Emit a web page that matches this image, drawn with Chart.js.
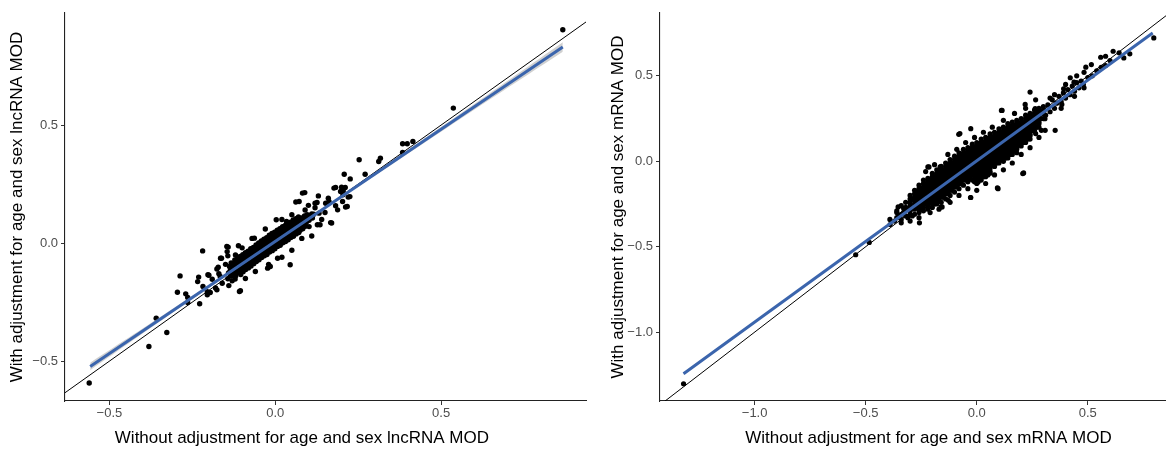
<!DOCTYPE html>
<html><head><meta charset="utf-8">
<script src="https://cdn.jsdelivr.net/npm/chart.js@4/dist/chart.umd.min.js"></script>
<style>
html,body{margin:0;padding:0;background:#fff;width:1166px;height:450px;overflow:hidden;position:relative;}
#w1{position:absolute;left:0;top:0;width:590px;height:450px;}
#w2{position:absolute;left:596px;top:0;width:586px;height:450px;}
</style></head><body>
<div id="w1"><canvas id="c1"></canvas></div>
<div id="w2"><canvas id="c2"></canvas></div>
<script>
// ---------- axis ticks / ranges ----------
const lncXTicks = [-0.5, 0, 0.5];
const lncYTicks = [-0.5, 0, 0.5];
const mrnaXTicks = [-1, -0.5, 0, 0.5];
const mrnaYTicks = [-1, -0.5, 0, 0.5];
const lncXRange = [-0.634, 0.937];
const lncYRange = [-0.669, 0.975];
const mrnaXRange = [-1.426, 0.906];
const mrnaYRange = [-1.403, 0.868];

// ---------- reference line y = x ----------
const identX = [-2, 2];
const identY = [-2, 2];

// ---------- fitted lines and SE bands ----------
const lncFitX = [-0.558, 0.867];
const lncFitY = [-0.523, 0.831];
const lncBandX = [-0.558, -0.3, 0, 0.3, 0.6, 0.867];
const lncBandHi = [-0.507, -0.270, 0.011, 0.299, 0.589, 0.851];
const lncBandLo = [-0.539, -0.286, 0.003, 0.285, 0.565, 0.811];

const mrnaFitX = [-1.320, 0.792];
const mrnaFitY = [-1.243, 0.751];
const mrnaBandX = [-1.320, -0.5, 0, 0.792];
const mrnaBandHi = [-1.235, -0.467, 0.005, 0.757];
const mrnaBandLo = [-1.251, -0.475, 0.001, 0.745];

// ---------- lncRNA MOD points (without adj, with adj) ----------
const lncOutliers = [
[0.867,0.904],[0.537,0.572],[0.384,0.421],[0.398,0.421],[0.415,0.431],[0.384,0.384],
[0.253,0.353],[0.312,0.346],[0.317,0.360],[0.208,0.292],[0.271,0.292],[0.226,0.272],
[0.182,0.236],[0.211,0.236],[0.205,0.222],[0.225,0.197],[0.203,0.176],[0.217,0.155],[0.188,0.141],
[0.177,0.233],[0.200,0.237],[0.197,0.219],[0.204,0.205],[0.220,0.195],[0.162,0.176],[0.152,0.169],
[0.182,0.158],[0.167,0.087],[0.212,0.153],
[0.089,0.214],[0.072,0.176],[0.126,0.172],[0.170,0.085],[0.135,0.078],[0.082,0.212],[0.062,0.174],
[0.120,0.169],[0.132,0.127],[0.102,0.070],[0.127,0.078],
[0.003,0.099],[0.034,0.092],[0.045,-0.092],[-0.015,-0.099],[-0.023,-0.106],[0.007,-0.064],[-0.063,0.021],
[-0.105,-0.202],[-0.219,-0.033],[-0.142,-0.017],[-0.146,-0.014],[-0.145,-0.036],[-0.111,-0.011],
[-0.162,-0.064],[-0.165,-0.064],[-0.172,-0.102],[-0.143,-0.054],
[-0.287,-0.139],[-0.231,-0.144],[-0.234,-0.163],[-0.203,-0.134],[-0.176,-0.110],[-0.200,-0.136],
[-0.190,-0.153],[-0.218,-0.184],[-0.205,-0.206],[-0.166,-0.141],
[-0.295,-0.208],[-0.270,-0.215],[-0.264,-0.230],[-0.228,-0.257],[-0.264,-0.252],[-0.205,-0.219],
[-0.196,-0.209],[-0.176,-0.198],[-0.108,-0.205],
[-0.359,-0.318],[-0.327,-0.379],[-0.381,-0.438],[-0.561,-0.593],
[-0.13,-0.16],[-0.12,-0.05],[-0.09,-0.15],[-0.06,-0.12],[-0.02,-0.09],[0.02,-0.06],[0.05,-0.03],
[0.08,0.02],[0.11,0.03],[0.14,0.10],[0.15,0.13],[0.12,0.15],[0.09,0.14],[0.05,0.12],[0.02,0.10],
[-0.03,0.06],[-0.07,0.02],[-0.10,-0.02],[-0.15,-0.09],[-0.17,-0.13],[-0.16,-0.17],[-0.18,-0.19],
[-0.14,-0.18],[0.16,0.19],[0.13,0.20],[0.10,0.16]
];
const lncCore = [
[-0.141,-0.126],[-0.138,-0.099],[-0.143,-0.151],[-0.131,-0.112],[-0.133,-0.084],[-0.129,-0.139],
[-0.124,-0.101],[-0.122,-0.071],[-0.126,-0.129],[-0.121,-0.152],[-0.116,-0.091],[-0.114,-0.066],[-0.118,-0.117],
[-0.108,-0.084],[-0.106,-0.057],[-0.110,-0.111],[-0.104,-0.133],[-0.100,-0.074],[-0.098,-0.049],[-0.101,-0.097],[-0.097,-0.121],
[-0.092,-0.067],[-0.090,-0.041],[-0.093,-0.089],[-0.089,-0.112],[-0.084,-0.057],[-0.082,-0.034],[-0.086,-0.081],[-0.081,-0.105],
[-0.076,-0.051],[-0.074,-0.024],[-0.077,-0.071],[-0.073,-0.097],[-0.068,-0.040],[-0.066,-0.018],[-0.069,-0.063],[-0.065,-0.087],
[-0.060,-0.035],[-0.058,-0.008],[-0.061,-0.057],[-0.057,-0.078],[-0.052,-0.025],[-0.050,0.001],[-0.053,-0.047],[-0.049,-0.071],
[-0.044,-0.019],[-0.042,0.009],[-0.045,-0.039],[-0.041,-0.061],[-0.036,-0.009],[-0.034,0.017],[-0.037,-0.033],[-0.033,-0.054],
[-0.028,-0.003],[-0.026,0.023],[-0.029,-0.023],[-0.025,-0.048],[-0.020,0.007],[-0.018,0.033],[-0.021,-0.017],[-0.017,-0.038],
[-0.012,0.012],[-0.010,0.041],[-0.013,-0.007],[-0.009,-0.032],[-0.004,0.022],[-0.002,0.046],[-0.005,0.001],[-0.001,-0.024],
[0.004,0.028],[0.006,0.055],[0.003,0.009],[0.007,-0.014],[0.012,0.037],[0.014,0.061],[0.011,0.014],[0.015,-0.009],
[0.020,0.043],[0.022,0.070],[0.019,0.024],[0.023,0.001],[0.028,0.053],[0.030,0.075],[0.027,0.029],[0.031,0.007],
[0.036,0.058],[0.038,0.084],[0.035,0.039],[0.039,0.014],[0.044,0.067],[0.046,0.089],[0.043,0.044],[0.047,0.024],
[0.052,0.073],[0.054,0.098],[0.051,0.053],[0.055,0.029],[0.060,0.082],[0.062,0.103],[0.059,0.059],[0.063,0.039],
[0.068,0.087],[0.070,0.111],[0.067,0.068],[0.071,0.045],[0.076,0.097],[0.078,0.073],[0.075,0.055],
[0.084,0.102],[0.086,0.083],[0.083,0.061],[0.092,0.111],[0.094,0.089],[0.091,0.071],
[0.100,0.117],[0.102,0.097],[0.110,0.124],[0.112,0.106],
[-0.136,-0.118],[-0.135,-0.140],[-0.128,-0.092],[-0.127,-0.120],[-0.120,-0.083],[-0.119,-0.106],[-0.119,-0.138],
[-0.112,-0.075],[-0.112,-0.100],[-0.111,-0.124],[-0.104,-0.066],[-0.103,-0.090],[-0.102,-0.113],
[-0.096,-0.058],[-0.095,-0.080],[-0.094,-0.103],[-0.088,-0.050],[-0.087,-0.072],[-0.086,-0.095],
[-0.080,-0.043],[-0.079,-0.062],[-0.078,-0.085],[-0.072,-0.033],[-0.071,-0.055],[-0.070,-0.077],
[-0.064,-0.026],[-0.063,-0.046],[-0.062,-0.068],[-0.056,-0.018],[-0.055,-0.037],[-0.054,-0.060],
[-0.048,-0.010],[-0.047,-0.030],[-0.046,-0.051],[-0.040,-0.002],[-0.039,-0.022],[-0.038,-0.044],
[-0.032,0.006],[-0.031,-0.014],[-0.030,-0.036],[-0.024,0.013],[-0.023,-0.006],[-0.022,-0.028],
[-0.016,0.022],[-0.015,0.002],[-0.014,-0.020],[-0.008,0.029],[-0.007,0.010],[-0.006,-0.012],
[0.000,0.036],[0.001,0.015],[0.002,-0.004],[0.008,0.043],[0.009,0.023],[0.010,0.003],
[0.016,0.050],[0.017,0.030],[0.018,0.011],[0.024,0.058],[0.025,0.037],[0.026,0.018],
[0.032,0.064],[0.033,0.045],[0.034,0.025],[0.040,0.073],[0.041,0.052],[0.042,0.033],
[0.048,0.080],[0.049,0.060],[0.050,0.040],[0.056,0.087],[0.057,0.067],[0.058,0.048],
[0.064,0.094],[0.065,0.074],[0.066,0.056],[0.072,0.100],[0.073,0.082],[0.074,0.063],
[0.080,0.107],[0.081,0.090],[0.082,0.071],[0.088,0.115],[0.089,0.098],[0.090,0.080],
[0.096,0.120],[0.097,0.104],[0.106,0.115],[0.116,0.122]
];

// ---------- mRNA MOD points ----------
const mrnaOutliers = [
[-1.320,-1.302],[-0.545,-0.547],[-0.484,-0.475],[0.797,0.722],[0.689,0.629],[0.662,0.605],[0.641,0.635],
[0.614,0.644],[0.580,0.615],[0.558,0.609],[0.516,0.566],[0.491,0.551],[0.483,0.521],[0.483,0.430],
[0.438,0.463],[0.421,0.489],[0.383,0.333],[0.391,0.424],[0.240,0.405],[0.265,0.360],[0.307,0.249],
[0.291,0.181],[0.265,0.162],[0.207,-0.072],[0.093,-0.156],[-0.027,0.191],[0.111,0.298],[-0.081,0.158],
[-0.220,-0.033],[-0.165,-0.033],[-0.027,-0.212],[0.006,-0.121],[-0.271,-0.175],[-0.354,-0.267],
[-0.329,-0.276],[-0.287,-0.222],[-0.391,-0.340],[-0.258,-0.360],[-0.29,-0.32],[-0.161,-0.267],
[-0.128,-0.228],[-0.076,0.162],[0.114,0.298],[-0.215,-0.033],[0.211,-0.068],[0.096,-0.160],
[-0.156,-0.267],[-0.028,-0.212],[0.218,0.333],[0.263,0.308],[0.308,0.181],[0.353,0.181],
[0.30,0.30],[0.31,0.27],[0.32,0.33],[0.33,0.29],[0.34,0.36],[0.35,0.31],[0.36,0.34],[0.37,0.38],
[0.38,0.35],[0.39,0.40],[0.40,0.37],[0.41,0.42],[0.42,0.39],[0.43,0.44],[0.44,0.41],[0.45,0.46],
[0.46,0.43],[0.47,0.47],[0.48,0.45],[0.50,0.49],[0.52,0.50],[0.54,0.53],[0.56,0.55],[0.58,0.56],
[0.60,0.59],[0.35,0.39],[0.40,0.45],[0.45,0.50],[0.33,0.37],[0.38,0.31],[0.44,0.38],
[-0.33,-0.30],[-0.35,-0.32],[-0.37,-0.35],[-0.31,-0.33],[-0.34,-0.36],[-0.32,-0.27],[-0.36,-0.30],[-0.39,-0.37],
[-0.23,-0.06],[-0.19,-0.02],[-0.13,0.04],[-0.09,0.07],[-0.05,0.11],[-0.01,0.14],[0.03,0.17],[0.07,0.20],
[0.12,0.24],[0.17,0.28],[0.22,0.31],[-0.30,-0.35],[-0.26,-0.33],[-0.21,-0.30],[-0.17,-0.28],[-0.12,-0.24],
[-0.08,-0.20],[-0.04,-0.16],[0.00,-0.17],[0.04,-0.13],[0.08,-0.08],[0.12,-0.05],[0.16,-0.01],[0.20,0.04],
[0.24,0.08],[0.28,0.14]
];
// dense core, one row per x value: [x, y1, y2, ...]
const mrnaCoreColumns = [
[-0.36,-0.29,-0.33],[-0.34,-0.26,-0.31,-0.34],[-0.32,-0.24,-0.28,-0.32],
[-0.30,-0.20,-0.24,-0.27,-0.31],[-0.28,-0.17,-0.21,-0.25,-0.28,-0.31],[-0.26,-0.14,-0.18,-0.22,-0.26,-0.30],
[-0.24,-0.11,-0.15,-0.19,-0.23,-0.27,-0.29],[-0.22,-0.10,-0.13,-0.17,-0.21,-0.25,-0.28],
[-0.20,-0.07,-0.11,-0.15,-0.19,-0.23,-0.27],[-0.18,-0.05,-0.09,-0.13,-0.17,-0.21,-0.25],
[-0.16,-0.03,-0.07,-0.11,-0.15,-0.19,-0.24],[-0.14,-0.01,-0.05,-0.09,-0.13,-0.17,-0.22],
[-0.12,0.01,-0.03,-0.07,-0.11,-0.15,-0.20],[-0.10,0.03,-0.01,-0.05,-0.09,-0.13,-0.18],
[-0.08,0.05,0.01,-0.03,-0.07,-0.11,-0.16],[-0.06,0.07,0.03,-0.01,-0.05,-0.09,-0.14],
[-0.04,0.08,0.04,0.00,-0.04,-0.08,-0.12],[-0.02,0.10,0.06,0.02,-0.02,-0.06,-0.11],
[0.00,0.11,0.07,0.03,-0.01,-0.05,-0.09,-0.13],[0.02,0.13,0.09,0.05,0.01,-0.03,-0.07,-0.11],
[0.04,0.14,0.10,0.06,0.02,-0.02,-0.06,-0.09],[0.06,0.16,0.12,0.08,0.04,0.00,-0.04,-0.07],
[0.08,0.17,0.13,0.09,0.05,0.01,-0.03],[0.10,0.19,0.15,0.11,0.07,0.03,-0.01],
[0.12,0.20,0.16,0.12,0.08,0.04,0.00],[0.14,0.22,0.18,0.14,0.10,0.06,0.02],
[0.16,0.23,0.19,0.15,0.11,0.07,0.04],[0.18,0.24,0.20,0.16,0.12,0.08,0.05],
[0.20,0.25,0.21,0.17,0.13,0.09],[0.22,0.27,0.23,0.19,0.15,0.11],[0.24,0.28,0.24,0.20,0.16,0.13],
[0.26,0.30,0.26,0.22,0.18],[0.28,0.31,0.27,0.23,0.20],[0.30,0.32,0.28,0.25],
[-0.27,-0.19,-0.23,-0.27],[-0.25,-0.16,-0.20,-0.24,-0.28],[-0.23,-0.13,-0.17,-0.21,-0.25],
[-0.21,-0.11,-0.15,-0.19,-0.23],[-0.19,-0.09,-0.13,-0.17,-0.21,-0.25],[-0.17,-0.07,-0.11,-0.15,-0.19,-0.23],
[-0.15,-0.05,-0.09,-0.13,-0.17,-0.21],[-0.13,-0.03,-0.07,-0.11,-0.15,-0.19],[-0.11,-0.01,-0.05,-0.09,-0.13,-0.17],
[-0.09,0.01,-0.03,-0.07,-0.11,-0.15],[-0.07,0.03,-0.01,-0.05,-0.09,-0.13],[-0.05,0.05,0.01,-0.03,-0.07,-0.11],
[-0.03,0.06,0.02,-0.02,-0.06,-0.10],[-0.01,0.08,0.04,0.00,-0.04,-0.08,-0.12],[0.01,0.09,0.05,0.01,-0.03,-0.07,-0.11],
[0.03,0.11,0.07,0.03,-0.01,-0.05,-0.09],[0.05,0.12,0.08,0.04,0.00,-0.04,-0.08],[0.07,0.14,0.10,0.06,0.02,-0.02],
[0.09,0.15,0.11,0.07,0.03,-0.01],[0.11,0.17,0.13,0.09,0.05,0.01],[0.13,0.18,0.14,0.10,0.06,0.02],
[0.15,0.20,0.16,0.12,0.08,0.04],[0.17,0.21,0.17,0.13,0.09,0.06],[0.19,0.22,0.18,0.14,0.10],
[0.21,0.23,0.19,0.15,0.11],[0.23,0.25,0.21,0.17,0.13],[0.25,0.26,0.22,0.18],[0.27,0.28,0.24,0.20],[0.29,0.29,0.25],
[-0.30,-0.22,-0.26,-0.29],[-0.28,-0.19,-0.23,-0.27],[-0.26,-0.16,-0.20,-0.24,-0.28],
[-0.24,-0.13,-0.17,-0.21,-0.25],[-0.22,-0.11,-0.15,-0.19,-0.23,-0.26],[-0.20,-0.09,-0.13,-0.17,-0.21,-0.25],
[-0.18,-0.07,-0.11,-0.15,-0.19,-0.23],[-0.16,-0.05,-0.09,-0.13,-0.17,-0.21],[-0.14,-0.03,-0.07,-0.11,-0.15,-0.19],
[-0.12,-0.01,-0.05,-0.09,-0.13,-0.17],[-0.10,0.01,-0.03,-0.07,-0.11,-0.15],[-0.08,0.03,-0.01,-0.05,-0.09,-0.13],
[-0.06,0.05,0.01,-0.03,-0.07,-0.11],[-0.04,0.06,0.02,-0.02,-0.06,-0.10],[-0.02,0.08,0.04,0.00,-0.04,-0.08],
[0.00,0.09,0.05,0.01,-0.03,-0.07,-0.11],[0.02,0.11,0.07,0.03,-0.01,-0.05,-0.09],[0.04,0.12,0.08,0.04,0.00,-0.04,-0.08],
[0.06,0.14,0.10,0.06,0.02,-0.02,-0.06],[0.08,0.15,0.11,0.07,0.03,-0.01],[0.10,0.17,0.13,0.09,0.05,0.01],
[0.12,0.18,0.14,0.10,0.06,0.02],[0.14,0.20,0.16,0.12,0.08,0.04],[0.16,0.21,0.17,0.13,0.09,0.06],
[0.18,0.22,0.18,0.14,0.10,0.07],[0.20,0.23,0.19,0.15,0.11],[0.22,0.25,0.21,0.17,0.13],[0.24,0.26,0.22,0.18,0.15],
[0.26,0.28,0.24,0.20],[0.28,0.29,0.25,0.22],
[-0.25,-0.18,-0.22,-0.26],[-0.23,-0.15,-0.19,-0.23],[-0.21,-0.13,-0.17,-0.21],[-0.19,-0.11,-0.15,-0.19,-0.23],
[-0.17,-0.09,-0.13,-0.17,-0.21],[-0.15,-0.07,-0.11,-0.15,-0.19],[-0.13,-0.05,-0.09,-0.13,-0.17],
[-0.11,-0.03,-0.07,-0.11,-0.15],[-0.09,-0.01,-0.05,-0.09,-0.13],[-0.07,0.01,-0.03,-0.07,-0.11],
[-0.05,0.03,-0.01,-0.05,-0.09],[-0.03,0.04,0.00,-0.04,-0.08],[-0.01,0.06,0.02,-0.02,-0.06,-0.10],
[0.01,0.07,0.03,-0.01,-0.05,-0.09],[0.03,0.09,0.05,0.01,-0.03,-0.07],[0.05,0.10,0.06,0.02,-0.02,-0.06],
[0.07,0.12,0.08,0.04,0.00],[0.09,0.13,0.09,0.05,0.01],[0.11,0.15,0.11,0.07,0.03],[0.13,0.16,0.12,0.08,0.04],
[0.15,0.18,0.14,0.10,0.06],[0.17,0.19,0.15,0.11,0.07],[0.19,0.20,0.16,0.12],[0.21,0.21,0.17,0.13],[0.23,0.23,0.19,0.15]
];

// ---------- texts ----------
const lncXTitle = 'Without adjustment for age and sex lncRNA MOD          ';
const lncYTitle = 'With adjustment for age and sex lncRNA MOD';
const mrnaXTitle = '    Without adjustment for age and sex mRNA MOD';
const mrnaYTitle = 'With adjustment for age and sex mRNA MOD';

// ---------- build ----------
const FONT = "'Liberation Sans', Arial, sans-serif";
Chart.defaults.font.family = FONT;
const fmt = v => (v < 0 ? '\u2212' : '') + Math.abs(v).toFixed(1);
const toXY = (xs, ys) => xs.map((x, i) => ({x: x, y: ys[i]}));
const pairs = arr => arr.map(p => ({x: p[0], y: p[1]}));
const cols = arr => { const out = []; arr.forEach(c => { for (let i = 1; i < c.length; i++) out.push({x: c[0], y: c[i]}); }); return out; };

function axis(range, ticks, title, isX, cfg) {
  return {
    type: 'linear', min: range[0], max: range[1], bounds: 'data',
    afterBuildTicks: s => { s.ticks = ticks.map(v => ({value: v})); },
    afterFit: s => { if (isX) s.height = cfg.xH; else s.width = cfg.yW; },
    ticks: {font: {size: 13, family: FONT}, color: '#4d4d4d', padding: isX ? 1 : 3, maxRotation: 0, callback: fmt},
    grid: {display: true, drawOnChartArea: false, drawTicks: true, tickLength: 4, color: '#333', tickWidth: 1},
    border: {display: true, color: '#222', width: 1.1},
    title: {display: true, text: title, color: '#000', font: {size: 17, family: FONT},
            padding: isX ? {top: 0, bottom: 0} : {top: cfg.yTitlePad, bottom: 0}}
  };
}

function panel(id, points, fitX, fitY, bX, bHi, bLo, xr, yr, xt, yt, xTitle, yTitle, cfg) {
  new Chart(document.getElementById(id), {
    type: 'scatter',
    data: {datasets: [
      {type: 'line', data: toXY(fitX, fitY), borderColor: '#3b65ad', borderWidth: 3, pointRadius: 0, fill: false, order: 0},
      {type: 'line', data: toXY(identX, identY), borderColor: '#000', borderWidth: 1, pointRadius: 0, fill: false, order: 1},
      {type: 'line', data: toXY(bX, bHi), borderWidth: 0, borderColor: 'rgba(0,0,0,0)', pointRadius: 0, fill: '+1', backgroundColor: 'rgba(150,150,150,0.45)', tension: 0.4, order: 2},
      {type: 'line', data: toXY(bX, bLo), borderWidth: 0, borderColor: 'rgba(0,0,0,0)', pointRadius: 0, fill: false, tension: 0.4, order: 3},
      {data: points, pointRadius: cfg.r, pointBackgroundColor: '#000', backgroundColor: '#000', pointBorderWidth: 0, borderWidth: 0, order: 4}
    ]},
    options: {
      responsive: true, maintainAspectRatio: false, animation: false,
      layout: {padding: {left: 0, right: 2, top: 13, bottom: 1}},
      plugins: {legend: {display: false}, tooltip: {enabled: false}},
      events: [],
      scales: {
        x: axis(xr, xt, xTitle, true, cfg),
        y: axis(yr, yt, yTitle, false, cfg)
      }
    }
  });
}

panel('c1', pairs(lncOutliers).concat(pairs(lncCore)), lncFitX, lncFitY, lncBandX, lncBandHi, lncBandLo,
      lncXRange, lncYRange, lncXTicks, lncYTicks, lncXTitle, lncYTitle, {xH: 48, yW: 65, yTitlePad: 7, r: 2.7});
panel('c2', pairs(mrnaOutliers).concat(cols(mrnaCoreColumns)), mrnaFitX, mrnaFitY, mrnaBandX, mrnaBandHi, mrnaBandLo,
      mrnaXRange, mrnaYRange, mrnaXTicks, mrnaYTicks, mrnaXTitle, mrnaYTitle, {xH: 48, yW: 64, yTitlePad: 12, r: 2.6});
</script>
</body></html>
